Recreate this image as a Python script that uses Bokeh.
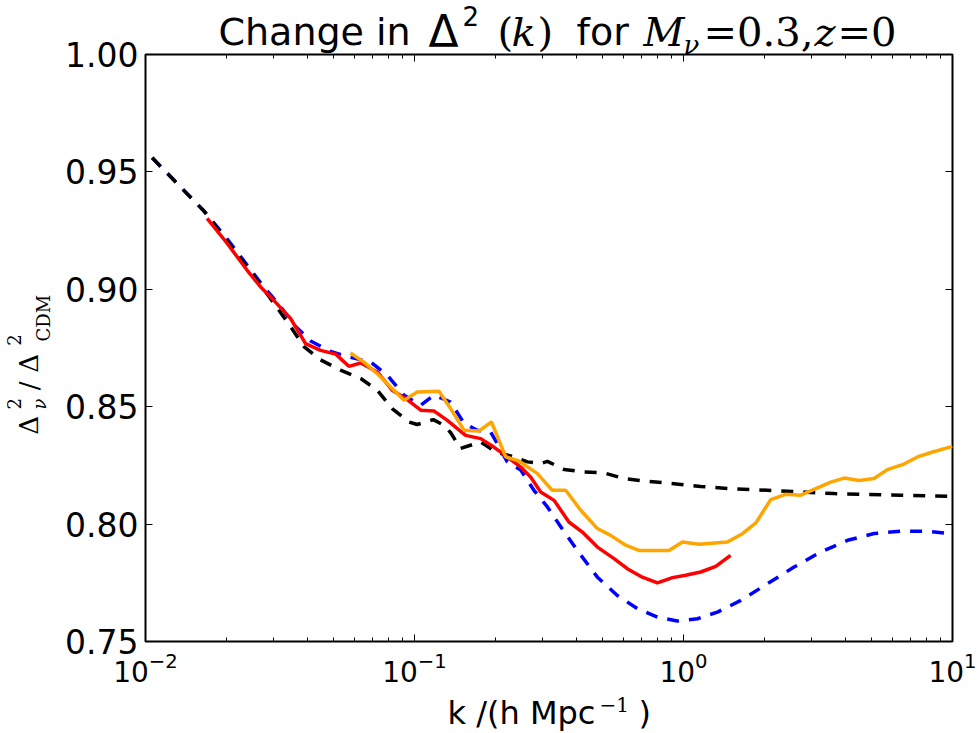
from math import pi
from bokeh.plotting import figure
from bokeh.layouts import column, row
from bokeh.models import Range1d, LogAxis, LinearAxis, FixedTicker, PrintfTickFormatter
from bokeh.core.properties import value
from bokeh.embed import file_html
from bokeh.resources import INLINE

# ---------------- data (x stored as log10 of k in h/Mpc) ----------------
black_log10k = [-1.975, -1.78, -1.56, -1.46, -1.41, -1.35, -1.275, -1.20, -1.138, -1.083,
                -1.021, -0.990, -0.93, -0.89, -0.866, -0.829, -0.754, -0.698, -0.643, -0.580,
                -0.531, -0.506, -0.444, -0.370, -0.296, -0.221, -0.134, -0.035, 0.064, 0.188,
                0.312, 0.436, 0.560, 0.684, 0.808, 1.000]
black_ratio = [0.956, 0.933, 0.900, 0.884, 0.8755, 0.870, 0.8656, 0.862, 0.857, 0.8492,
               0.8435, 0.8424, 0.8445, 0.842, 0.839, 0.8322, 0.835, 0.8307, 0.8290, 0.8265,
               0.8258, 0.8267, 0.8233, 0.8222, 0.8218, 0.8194, 0.8182, 0.8172, 0.8160, 0.8150,
               0.8144, 0.8137, 0.8130, 0.8126, 0.8123, 0.8118]

blue_log10k = [-1.975, -1.78, -1.70, -1.62, -1.56, -1.50, -1.45, -1.386, -1.312, -1.238,
               -1.163, -1.101, -1.039, -0.977, -0.928, -0.866, -0.816, -0.767, -0.717, -0.692,
               -0.655, -0.605, -0.556, -0.506, -0.457, -0.395, -0.320, -0.246, -0.171, -0.097,
               -0.023, 0.052, 0.126, 0.213, 0.312, 0.411, 0.510, 0.610, 0.709, 0.808,
               0.907, 1.000]
blue_ratio = [0.956, 0.933, 0.922, 0.910, 0.901, 0.893, 0.885, 0.878, 0.8735, 0.871,
              0.869, 0.8634, 0.8549, 0.8506, 0.8549, 0.852, 0.843, 0.840, 0.8392, 0.8343,
              0.8265, 0.823, 0.8144, 0.8073, 0.7990, 0.7888, 0.7774, 0.7696, 0.7640, 0.7604,
              0.7587, 0.7597, 0.7625, 0.7675, 0.7746, 0.7817, 0.7881, 0.7931, 0.7960, 0.7970,
              0.7969, 0.7958]

red_log10k = [-1.771, -1.696, -1.622, -1.572, -1.523, -1.461, -1.405, -1.349, -1.293, -1.244,
              -1.200, -1.138, -1.083, -1.033, -0.977, -0.928, -0.878, -0.810, -0.754, -0.705,
              -0.655, -0.605, -0.568, -0.531, -0.481, -0.426, -0.376, -0.320, -0.258, -0.209,
              -0.153, -0.097, -0.041, 0.008, 0.064, 0.120, 0.175]
red_ratio = [0.9302, 0.9195, 0.9081, 0.9010, 0.8953, 0.8876, 0.8769, 0.8740, 0.8724, 0.8672,
             0.8686, 0.8648, 0.8570, 0.8535, 0.8485, 0.8482, 0.8442, 0.8378, 0.8364, 0.8328,
             0.8286, 0.8243, 0.8200, 0.8137, 0.8101, 0.8009, 0.7966, 0.7902, 0.7853, 0.7810,
             0.7774, 0.7750, 0.7772, 0.7782, 0.7796, 0.7820, 0.7867]

orange_log10k = [-1.238, -1.188, -1.138, -1.089, -1.039, -0.990, -0.909, -0.866, -0.816, -0.760,
                 -0.714, -0.661, -0.612, -0.543, -0.488, -0.438, -0.382, -0.320, -0.271, -0.215,
                 -0.166, -0.054, -0.004, 0.058, 0.163, 0.219, 0.269, 0.324, 0.380, 0.436,
                 0.492, 0.547, 0.597, 0.653, 0.708, 0.758, 0.814, 0.870, 0.926, 1.000]
orange_ratio = [0.8729, 0.8690, 0.8640, 0.8584, 0.8527, 0.8563, 0.8566, 0.8492, 0.8400, 0.8397,
                0.8435, 0.8286, 0.8269, 0.8215, 0.8144, 0.8144, 0.8059, 0.7981, 0.7952, 0.7910,
                0.7888, 0.7888, 0.7924, 0.7914, 0.7924, 0.7959, 0.8005, 0.8104, 0.8127, 0.8123,
                0.8151, 0.8179, 0.8196, 0.8186, 0.8194, 0.8232, 0.8253, 0.8286, 0.8307, 0.8331]

x_major_ticks = [0.01, 0.1, 1.0, 10.0]
x_minor_ticks = [m * 10.0 ** e for e in (-2, -1, 0) for m in range(2, 10)]
y_ticks = [0.75, 0.80, 0.85, 0.90, 0.95, 1.00]


def to_k(logs):
    return [10.0 ** v for v in logs]


SANS = "DejaVu Sans"
SERIF = "DejaVu Serif"

TITLE_H = 60      # title strip height
OVERLAP = 40      # title strip overlaps the top border of the plot row
ROW_TOP = TITLE_H - OVERLAP
XLAB_H = 40
YLAB_W = 60
MAIN_W = 977 - YLAB_W
MAIN_H = 733 - XLAB_H - ROW_TOP


def blank(w, h):
    f = figure(width=w, height=h, x_range=Range1d(0, w), y_range=Range1d(0, h),
               output_backend="svg", toolbar_location=None, min_border=0,
               min_border_left=0, min_border_right=0, min_border_top=0, min_border_bottom=0,
               x_axis_location=None, y_axis_location=None)
    f.outline_line_color = None
    f.background_fill_color = None
    f.border_fill_color = None
    f.grid.visible = False
    return f


def txt(fig, x, y, s, font, size, style="normal", angle=0.0):
    fig.text(x=[x], y=[y], text=[s], text_font=value(font), text_font_size=value(f"{size}px"),
             text_font_style=style, text_color="black", text_align="left",
             text_baseline="alphabetic", angle=angle)


# ---------------- main plot ----------------
p = figure(width=MAIN_W, height=MAIN_H, x_axis_type="log",
           x_range=Range1d(0.01, 10.0), y_range=Range1d(0.75, 1.0),
           output_backend="svg", toolbar_location=None,
           min_border_left=145 - YLAB_W, min_border_right=25, min_border_top=54 - ROW_TOP,
           min_border_bottom=52)
p.grid.visible = False
p.background_fill_color = "white"
p.border_fill_color = None
p.outline_line_color = "black"
p.outline_line_width = 2

bottom_axis = p.below[0]
left_axis = p.left[0]
bottom_axis.ticker = FixedTicker(ticks=x_major_ticks, minor_ticks=x_minor_ticks)
left_axis.ticker = FixedTicker(ticks=y_ticks)
left_axis.formatter = PrintfTickFormatter(format="%.2f")

top_axis = LogAxis(ticker=FixedTicker(ticks=x_major_ticks, minor_ticks=x_minor_ticks))
right_axis = LinearAxis(ticker=FixedTicker(ticks=y_ticks))
p.add_layout(top_axis, "above")
p.add_layout(right_axis, "right")

for ax in (bottom_axis, left_axis, top_axis, right_axis):
    ax.axis_line_color = None
    ax.major_tick_in = 7
    ax.major_tick_out = 0
    ax.minor_tick_in = 4
    ax.minor_tick_out = 0
    ax.major_tick_line_color = "black"
    ax.minor_tick_line_color = "black"
    ax.major_tick_line_width = 1
    ax.minor_tick_line_width = 1
    ax.major_label_text_font = SANS
    ax.major_label_text_color = "black"

for ax in (top_axis, right_axis):
    ax.major_label_text_font_size = "1px"
    ax.major_label_text_color = None
    ax.major_label_standoff = 0
left_axis.minor_tick_line_color = None
right_axis.minor_tick_line_color = None
left_axis.major_label_text_font_size = "33px"
left_axis.major_label_standoff = 7
bottom_axis.major_label_text_font_size = "28px"
bottom_axis.major_label_standoff = 10

p.line(to_k(blue_log10k), blue_ratio, line_color="blue", line_width=3.5, line_dash="12 10")
p.line(to_k(black_log10k), black_ratio, line_color="black", line_width=3.5, line_dash="12 10")
p.line(to_k(red_log10k), red_ratio, line_color="red", line_width=3.5)
p.line(to_k(orange_log10k), orange_ratio, line_color="orange", line_width=3.5)

# ---------------- title strip (data y = TITLE_H - canvas anchor y) ----------------
t = blank(977, TITLE_H)
t.margin = (0, 0, -OVERLAP, 0)
by = TITLE_H - 31
txt(t, 218, by, "Change in", SANS, 38)
txt(t, 428, by, "Δ", SANS, 44)
txt(t, 462, TITLE_H - 15, "2", SANS, 26)
txt(t, 497, by, "(", SERIF, 40)
txt(t, 511, by, "k", SERIF, 40, "italic")
txt(t, 537, by, ")", SERIF, 40)
txt(t, 576, by, "for", SANS, 38)
txt(t, 643, by, "M", SERIF, 40, "italic")
txt(t, 683, TITLE_H - 44, "ν", SERIF, 26, "italic")
txt(t, 703, by, "=0.3,", SERIF, 40)
txt(t, 814, by, "z", SERIF, 40, "italic")
txt(t, 837, by, "=0", SERIF, 40)

# ---------------- y label strip (data y = strip bottom - canvas y) ----------------
yl = blank(YLAB_W, MAIN_H)
Y0 = ROW_TOP + MAIN_H - 33
DX = -12
R = pi / 2
txt(yl, 40 + DX, Y0 - 423, "Δ", SERIF, 26, angle=R)
txt(yl, 22 + DX * 0.7, Y0 - 394, "2", SERIF, 18, angle=R)
txt(yl, 47 + DX * 0.7, Y0 - 394, "ν", SERIF, 18, "italic", angle=R)
txt(yl, 40 + DX, Y0 - 372, "/", SERIF, 26, angle=R)
txt(yl, 40 + DX, Y0 - 352, "Δ", SERIF, 26, angle=R)
txt(yl, 22 + DX * 0.7, Y0 - 321, "2", SERIF, 18, angle=R)
txt(yl, 51 + DX * 0.7, Y0 - 316, "CDM", SERIF, 18, angle=R)

# ---------------- x label strip (data y = 733 - canvas y) ----------------
xl = blank(977, XLAB_H)
XY = 10
txt(xl, 447, 733 - 722 + XY, "k /(h Mpc", SANS, 32)
txt(xl, 599, 733 - 710 + 6, "−1", SERIF, 20)
txt(xl, 638, 733 - 722 + XY, ")", SANS, 32)

layout = column(t, row(yl, p), xl)
open("out.html", "w").write(file_html(layout, INLINE))
